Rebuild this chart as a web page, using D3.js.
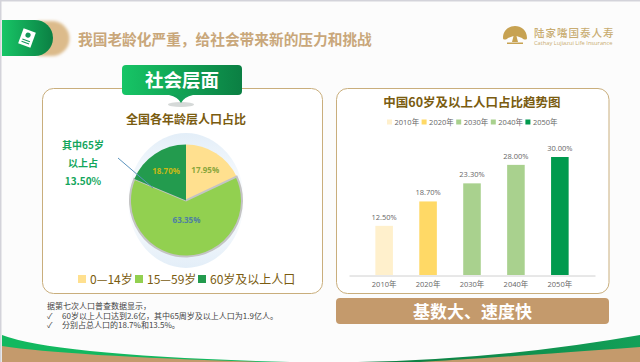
<!DOCTYPE html>
<html>
<head>
<meta charset="utf-8">
<script src="https://cdn.jsdelivr.net/npm/d3@7"></script>
<style>
  html, body { margin: 0; padding: 0; background: #fff; }
  svg { display: block; }
  text { font-family: "Noto Sans CJK SC", "Noto Sans", sans-serif; }
  .num { font-family: "Open Sans", "Noto Sans CJK SC", sans-serif; }
</style>
</head>
<body>
<div id="chart"></div>
<script>
// pie: share of population by age group
const ageGroups = ["0—14岁", "15—59岁", "60岁及以上人口"];
const ageShares = [17.95, 63.35, 18.7];
const ageColors = ["#ffe08f", "#92d050", "#239b4e"];
const ageLabelColors = ["#8aa63c", "#4f7fa3", "#c9b916"];

// bars: share of population aged 60+
const years = ["2010年", "2020年", "2030年", "2040年", "2050年"];
const oldShares = [12.5, 18.7, 23.3, 28, 30];
const yearColors = ["#fff0cc", "#ffd966", "#a9d18e", "#a9d18e", "#009a4e"];

const noteLines = [
  "据第七次人口普查数据显示\uFF0C",
  "60岁以上人口达到2.6亿\uFF0C其中65周岁及以上人口为1.9亿人。",
  "分别占总人口的18.7%和13.5%。"
];
const calloutLines = ["其中65岁", "以上占", "13.50%"];

const width = 640, height = 362;
const svg = d3.select("#chart").append("svg").attr("width", width).attr("height", height);
const defs = svg.append("defs");

function hGradient(id, from, to) {
  const g = defs.append("linearGradient").attr("id", id);
  g.append("stop").attr("offset", "0%").attr("stop-color", from);
  g.append("stop").attr("offset", "100%").attr("stop-color", to);
}
hGradient("greenBtn", "#17c566", "#0b7f43");
hGradient("footGreen", "#0c7a3f", "#12a058");
defs.append("filter").attr("id", "soft").append("feGaussianBlur").attr("stdDeviation", 1.5);
const halo = defs.append("linearGradient").attr("id", "halo").attr("x1", 0).attr("y1", 0).attr("x2", 0).attr("y2", 1);
halo.append("stop").attr("offset", "0%").attr("stop-color", "#e3eef8");
halo.append("stop").attr("offset", "50%").attr("stop-color", "#ffffff");
halo.append("stop").attr("offset", "100%").attr("stop-color", "#e3eef8");

// page background and frame
svg.append("rect").attr("width", width).attr("height", height).attr("fill", "#fcfcfc");
svg.append("rect").attr("width", width).attr("height", 1.5).attr("fill", "#d3d3da");
svg.append("rect").attr("width", 1.5).attr("height", height).attr("fill", "#d3d3da");

// footer swooshes
svg.append("path").attr("d", "M2,335 Q55,355.5 290,362 L2,362 Z").attr("fill", "#12b85f");
svg.append("path").attr("d", "M2,346 Q68,356 262,362 L2,362 Z").attr("fill", "#c49a6c");
svg.append("path").attr("d", "M640,335 Q501,359.5 358,362 L640,362 Z").attr("fill", "url(#footGreen)");
svg.append("path").attr("d", "M640,347 Q470,359.5 420,362 L640,362 Z").attr("fill", "#c49a6c");

// header pill
svg.append("path").attr("d", "M30,21 H44 A17.5,17.5 0 0 1 44,56 H30 Z").attr("fill", "#dcbb8b")
  .attr("transform", "translate(8,0)").attr("filter", "url(#soft)");
svg.append("path").attr("d", "M2,20 H35 A18,18 0 0 1 35,56 H2 Z").attr("fill", "url(#greenBtn)");
svg.append("g").attr("transform", "translate(27,38) rotate(20)").call(g => {
  g.append("rect").attr("x", -6.5).attr("y", -8).attr("width", 13).attr("height", 16).attr("fill", "#fff");
  g.append("circle").attr("cx", 0).attr("cy", -3).attr("r", 2.6).attr("fill", "#12985a");
  g.append("rect").attr("x", -4).attr("y", 2).attr("width", 8).attr("height", 1).attr("fill", "#12985a");
  g.append("rect").attr("x", -4).attr("y", 4.5).attr("width", 8).attr("height", 1).attr("fill", "#12985a");
});
svg.append("text").attr("x", 78).attr("y", 45).attr("font-size", 14.7).attr("font-weight", 700)
  .attr("fill", "#c9a77a").text("我国老龄化严重\uFF0C给社会带来新的压力和挑战");

// logo
const logo = svg.append("g").attr("fill", "#c7a252");
logo.append("path").attr("d", "M503,38 C503,30 509,26 515,26 C521,26 527,30 527,38 C527,40 524,40 522,38 L516.5,36 L518,42 H512 L513.5,36 L508,38 C506,40 503,40 503,38 Z");
logo.append("rect").attr("x", 507).attr("y", 42.5).attr("width", 16).attr("height", 1.5);
svg.append("text").attr("x", 534).attr("y", 36.5).attr("font-size", 10.5).attr("letter-spacing", 1)
  .attr("font-weight", 500).attr("fill", "#c9ad72").text("陆家嘴国泰人寿");
svg.append("text").attr("class", "num").attr("x", 534).attr("y", 45).attr("font-size", 5.7)
  .attr("fill", "#c9ad72").text("Cathay Lujiazui Life Insurance");

// panels
svg.append("rect").attr("x", 42.5).attr("y", 88.5).attr("width", 280).attr("height", 205).attr("rx", 11)
  .attr("fill", "#fff").attr("stroke", "#c9ae7c");
svg.append("rect").attr("x", 336.5).attr("y", 88.5).attr("width", 272.5).attr("height", 205).attr("rx", 11)
  .attr("fill", "#fff").attr("stroke", "#c9ae7c");

// section tag
svg.append("ellipse").attr("cx", 181).attr("cy", 104.5).attr("rx", 13).attr("ry", 2.5).attr("fill", "#d5d9d8");
svg.append("path").attr("d", "M169,95 Q178,97 181,103 Q184,97 193,95 Z").attr("fill", "#12a058");
svg.append("rect").attr("x", 122).attr("y", 65).attr("width", 120).attr("height", 30).attr("rx", 4).attr("fill", "url(#greenBtn)");
svg.append("text").attr("x", 182).attr("y", 87).attr("text-anchor", "middle").attr("font-size", 18.5)
  .attr("font-weight", 700).attr("fill", "#fff").text("社会层面");

svg.append("text").attr("x", 186).attr("y", 124).attr("text-anchor", "middle").attr("font-size", 12)
  .attr("font-weight", 700).attr("fill", "#7a5c10").text("全国各年龄层人口占比");

// pie
const pieG = svg.append("g").attr("transform", "translate(186,200.5)");
pieG.append("ellipse").attr("rx", 58).attr("ry", 67.5).attr("fill", "url(#halo)");

const pie = d3.pie().sort(null).value(d => d);
const arcs = pie(ageShares);
const arc = d3.arc().innerRadius(0).outerRadius(56);
const labelArc = d => d3.arc().innerRadius(0).outerRadius(d.value > 50 ? 40 : 72).centroid(d);

pieG.selectAll("path.slice").data(arcs).join("path")
  .attr("class", "slice")
  .attr("d", arc)
  .attr("fill", (d, i) => ageColors[i])
  .attr("stroke", "#c4c4c4")
  .attr("stroke-width", (d, i) => i === 1 ? 2 : 0);

pieG.selectAll("text.pct").data(arcs).join("text")
  .attr("class", "pct num")
  .attr("x", d => labelArc(d)[0])
  .attr("y", d => labelArc(d)[1] + 3)
  .attr("text-anchor", "middle")
  .attr("font-size", 8)
  .attr("font-weight", 700)
  .attr("fill", (d, i) => ageLabelColors[i])
  .text(d => d.value.toFixed(2) + "%");

// callout
svg.selectAll("text.callout").data(calloutLines).join("text")
  .attr("class", "callout")
  .attr("x", 83)
  .attr("y", (d, i) => 149 + i * 18)
  .attr("text-anchor", "middle")
  .attr("font-size", 10)
  .attr("font-weight", 700)
  .attr("fill", "#14a65c")
  .text(d => d);
svg.append("line").attr("x1", 118).attr("y1", 158).attr("x2", 153).attr("y2", 188)
  .attr("stroke", "#5b93bd").attr("stroke-width", 1);

// pie legend
const legendX = [78, 135, 198];
const legend = svg.selectAll("g.age").data(ageGroups).join("g")
  .attr("class", "age")
  .attr("transform", (d, i) => `translate(${legendX[i]},279)`);
legend.append("rect").attr("y", -4).attr("width", 8).attr("height", 8).attr("fill", (d, i) => ageColors[i]);
legend.append("text").attr("x", 12).attr("y", 4.5).attr("font-size", 12)
  .attr("fill", "#7a5c10").text(d => d);

// bar chart
svg.append("text").attr("x", 472).attr("y", 107).attr("text-anchor", "middle").attr("font-size", 12.5)
  .attr("font-weight", 700).attr("fill", "#7a5c10").text("中国60岁及以上人口占比趋势图");

const yearLegend = svg.selectAll("g.yr").data(years).join("g")
  .attr("class", "yr")
  .attr("transform", (d, i) => `translate(${387 + i * 34.6},122)`);
yearLegend.append("rect").attr("y", -2.5).attr("width", 5).attr("height", 5).attr("fill", (d, i) => yearColors[i]);
yearLegend.append("text").attr("class", "num").attr("x", 7.5).attr("y", 3).attr("font-size", 7.5)
  .attr("fill", "#666").text(d => d);

const x = d3.scaleBand().domain(years).range([349, 595]).padding(0.6);
const y = d3.scaleLinear().domain([0, 30]).range([275, 157]);

svg.selectAll("rect.bar").data(oldShares).join("rect")
  .attr("class", "bar")
  .attr("x", (d, i) => x(years[i]))
  .attr("y", d => y(d))
  .attr("width", x.bandwidth())
  .attr("height", d => y(0) - y(d))
  .attr("fill", (d, i) => yearColors[i]);

svg.selectAll("text.val").data(oldShares).join("text")
  .attr("class", "val num")
  .attr("x", (d, i) => x(years[i]) + x.bandwidth() / 2)
  .attr("y", d => y(d) - 6)
  .attr("text-anchor", "middle")
  .attr("font-size", 7.5)
  .attr("fill", "#666")
  .text(d => d.toFixed(2) + "%");

const xAxis = svg.append("g").attr("transform", "translate(0,275.5)")
  .call(d3.axisBottom(x).tickSize(0).tickPadding(6));
xAxis.select(".domain").attr("stroke", "#d0d0d0");
xAxis.selectAll("text").attr("class", "num").attr("font-size", 7.5).attr("fill", "#666");

// banner
svg.append("rect").attr("x", 336).attr("y", 298).attr("width", 273).attr("height", 26).attr("rx", 4).attr("fill", "#c49a6c");
svg.append("text").attr("x", 472.5).attr("y", 318).attr("text-anchor", "middle").attr("font-size", 17)
  .attr("font-weight", 700).attr("fill", "#fff").text("基数大、速度快");

// note
svg.selectAll("text.note").data(noteLines).join("text")
  .attr("class", "note")
  .attr("x", (d, i) => i === 0 ? 47 : 62)
  .attr("y", (d, i) => 309 + i * 9.5)
  .attr("font-size", 8)
  .attr("fill", "#444")
  .text(d => d);
svg.selectAll("text.tick-mark").data(noteLines.slice(1)).join("text")
  .attr("class", "tick-mark")
  .attr("x", 47)
  .attr("y", (d, i) => 318.5 + i * 9.5)
  .attr("font-size", 8)
  .attr("fill", "#444")
  .text("✓");
</script>
</body>
</html>
